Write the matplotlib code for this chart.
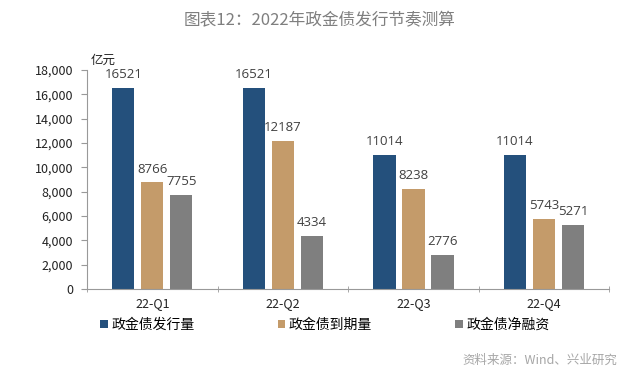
import matplotlib.pyplot as plt
import numpy as np

plt.rcParams['font.family'] = ['Noto Sans CJK SC', 'DejaVu Sans']

quarters = ['22-Q1', '22-Q2', '22-Q3', '22-Q4']
series_names = ['政金债发行量', '政金债到期量', '政金债净融资']
issuance = [16521, 16521, 11014, 11014]
maturity = [8766, 12187, 8238, 5743]
net_financing = [7755, 4334, 2776, 5271]
colors = ['#24507c', '#c49b6a', '#7f7f7f']

fig = plt.figure(figsize=(6.4, 3.83), dpi=100)
ax = fig.add_axes([0.136, 0.245, 0.816, 0.572])

x = np.arange(len(quarters))
width = 0.17
step = 0.222
for i, (vals, name, c) in enumerate(zip([issuance, maturity, net_financing], series_names, colors)):
    pos = x + (i - 1) * step
    ax.bar(pos, vals, width, color=c, label=name)
    for p, v in zip(pos, vals):
        ax.annotate(str(v), (p, v), xytext=(0, 5), textcoords='offset points',
                    ha='center', va='bottom', fontsize=9.5, color='#404040',
                    family='Open Sans')

ax.set_xlim(-0.5, 3.5)
ax.set_ylim(0, 18000)
ax.set_yticks(np.arange(0, 18001, 2000))
ax.set_yticklabels([f'{v:,}' for v in range(0, 18001, 2000)], fontsize=9, color='#222222')
ax.set_xticks(x)
ax.set_xticklabels(quarters, fontsize=9, color='#222222')
ax.set_xticks(np.arange(-0.5, 4, 1), minor=True)
ax.tick_params(axis='x', which='major', length=0, pad=6)
ax.tick_params(axis='x', which='minor', length=4, color='#999999', direction='inout')
ax.tick_params(axis='y', length=4, color='#999999', pad=6)
for s in ['top', 'right']:
    ax.spines[s].set_visible(False)
for s in ['left', 'bottom']:
    ax.spines[s].set_color('#999999')

fig.text(0.5, 0.945, '图表12：2022年政金债发行节奏测算', ha='center', va='center',
         fontsize=12, color='#7f7f7f')
fig.text(0.141, 0.843, '亿元', ha='left', va='center', fontsize=9, color='#222222', style='italic')
fig.text(0.965, 0.06, '资料来源：Wind、兴业研究', ha='right', va='center',
         fontsize=9, color='#a6a6a6')

leg = ax.legend(loc='center left', bbox_to_anchor=(0.025, -0.164), ncol=3, frameon=False,
                fontsize=10, handlelength=0.55, handleheight=0.55, handletextpad=0.25,
                columnspacing=6.0, borderaxespad=0, borderpad=0)

fig.savefig('out.png', dpi=100)
